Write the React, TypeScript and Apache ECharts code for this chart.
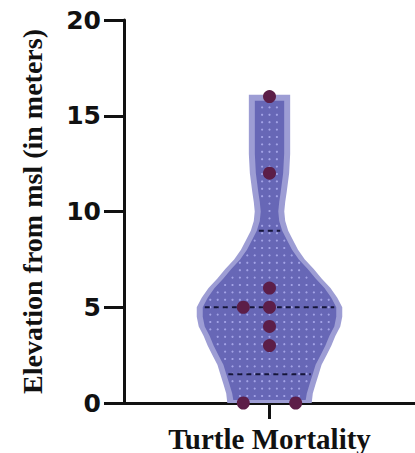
import React, { useEffect, useRef } from "react";
import * as echarts from "echarts";

// ---- data ----
const categories = ["Turtle Mortality"];
const categoryPositions = [0];
const elevations = [0, 0, 3, 4, 5, 5, 6, 12, 16];
const pointJitter = [-0.18, 0.18, 0, 0, -0.18, 0, 0, 0, 0];
const densityLevels = [0, 0.5, 1, 1.5, 2, 2.5, 3, 3.5, 4, 4.5, 5, 5.5, 6, 6.5, 7, 7.5, 8, 8.5, 9, 9.5, 10, 10.5, 11, 12, 13, 14, 15, 16.1];
const densityWidths = [0.58, 0.595, 0.635, 0.676, 0.716, 0.784, 0.851, 0.905, 0.973, 1.0, 1.0, 0.932, 0.838, 0.716, 0.608, 0.486, 0.392, 0.324, 0.257, 0.216, 0.203, 0.216, 0.236, 0.27, 0.284, 0.284, 0.284, 0.284];
const yTickMin = 0;
const yTickMax = 20;
const yTickStep = 5;

function quantileGP(sorted: number[], p: number) {
  const n = sorted.length;
  const pos = p * (n + 1) - 1;
  const lo = Math.max(0, Math.min(n - 1, Math.floor(pos)));
  const hi = Math.max(0, Math.min(n - 1, Math.ceil(pos)));
  const f = pos - Math.floor(pos);
  return sorted[lo] + (sorted[hi] - sorted[lo]) * f;
}

export default function App() {
  const ref = useRef<HTMLDivElement>(null);
  useEffect(() => {
    document.body.style.margin = "0";
    const chart = echarts.init(ref.current!, null, { renderer: "svg" });
    const sorted = [...elevations].sort((a, b) => a - b);
    const quartiles = [0.25, 0.5, 0.75].map((p) => quantileGP(sorted, p));
    const maxHalf = 0.5;
    const inset = 6;

    const renderItem = (params: any, api: any) => {
      const c0 = api.coord([categoryPositions[0], 0]);
      const cx = c0[0];
      const unit = api.coord([categoryPositions[0] + 1, 0])[0] - cx;
      const pts = densityLevels.map((lv, i) => {
        const y = api.coord([0, lv])[1];
        return { y, h: densityWidths[i] * maxHalf * unit };
      });
      const outer: number[][] = [];
      pts.forEach((p) => outer.push([cx - p.h, p.y]));
      for (let i = pts.length - 1; i >= 0; i--) outer.push([cx + pts[i].h, pts[i].y]);
      const n = pts.length;
      const innerPts = pts.map((p, i) => ({
        y: i === 0 ? p.y - 3 : i === n - 1 ? p.y + inset : p.y,
        h: Math.max(1, p.h - inset),
      }));
      const inner: number[][] = [];
      innerPts.forEach((p) => inner.push([cx - p.h, p.y]));
      for (let i = innerPts.length - 1; i >= 0; i--) inner.push([cx + innerPts[i].h, innerPts[i].y]);

      const halfAt = (y: number) => {
        for (let i = 0; i < innerPts.length - 1; i++) {
          const a = innerPts[i], b = innerPts[i + 1];
          if (y <= a.y && y >= b.y) {
            const t = (a.y - y) / (a.y - b.y || 1);
            return a.h + (b.h - a.h) * t;
          }
        }
        return 0;
      };

      const children: any[] = [
        { type: "polygon", shape: { points: outer }, style: { fill: "#9d9dd4" } },
        { type: "polygon", shape: { points: inner }, style: { fill: "#6767b6" } },
      ];
      const step = 7.4;
      const yTop = innerPts[n - 1].y;
      const yBot = innerPts[0].y;
      for (let y = yBot - 4; y > yTop + 2; y -= step) {
        const h = halfAt(y) - 2.5;
        for (let k = -20; k <= 20; k++) {
          const x = cx + k * step;
          if (Math.abs(x - cx) <= h) {
            children.push({ type: "circle", shape: { cx: x, cy: y, r: 1.1 }, style: { fill: "#a3a3e6" } });
          }
        }
      }
      quartiles.forEach((q) => {
        const y = api.coord([0, q])[1];
        const h = halfAt(y) - 2;
        children.push({
          type: "line",
          shape: { x1: cx - h, y1: y, x2: cx + h, y2: y },
          style: { stroke: "#15153a", lineWidth: 2, lineDash: [5, 4] },
        });
      });
      return { type: "group", children };
    };

    chart.setOption({
      animation: false,
      grid: { left: 124, right: -7, top: 20, bottom: 49, containLabel: false },
      xAxis: {
        type: "value",
        min: -1,
        max: 1,
        interval: 1,
        splitLine: { show: false },
        axisLine: { onZero: false, lineStyle: { color: "#111", width: 3 } },
        axisTick: { show: true, customValues: categoryPositions, length: 16, lineStyle: { color: "#111", width: 3 } },
        axisLabel: {
          customValues: categoryPositions,
          formatter: (v: number) => {
            const i = categoryPositions.indexOf(v);
            return i >= 0 ? categories[i] : "";
          },
          color: "#111",
          fontFamily: "Liberation Serif",
          fontWeight: "bold",
          fontSize: 29,
          margin: 21,
        },
      },
      yAxis: {
        type: "value",
        min: yTickMin,
        max: yTickMax,
        interval: yTickStep,
        axisLine: { show: true, onZero: false, lineStyle: { color: "#111", width: 3 } },
        axisTick: { show: true, length: 20, lineStyle: { color: "#111", width: 3 } },
        splitLine: { show: false },
        axisLabel: {
          color: "#111",
          fontFamily: "DejaVu Sans",
          fontWeight: "bold",
          fontSize: 25,
          margin: 23,
        },
        name: "Elevation from msl (in meters)",
        nameLocation: "middle",
        nameGap: 78,
        nameTextStyle: {
          color: "#111",
          fontFamily: "Liberation Serif",
          fontWeight: "bold",
          fontSize: 28,
        },
      },
      series: [
        {
          type: "custom",
          renderItem,
          data: [[0, 0]],
          silent: true,
          z: 2,
        },
        {
          type: "scatter",
          data: elevations.map((v, i) => [categoryPositions[0] + pointJitter[i], v]),
          symbolSize: 13,
          itemStyle: { color: "#5c1e48", opacity: 1 },
          z: 5,
        },
      ],
    });
    return () => chart.dispose();
  }, []);
  return <div ref={ref} style={{ width: 415, height: 453 }} />;
}
